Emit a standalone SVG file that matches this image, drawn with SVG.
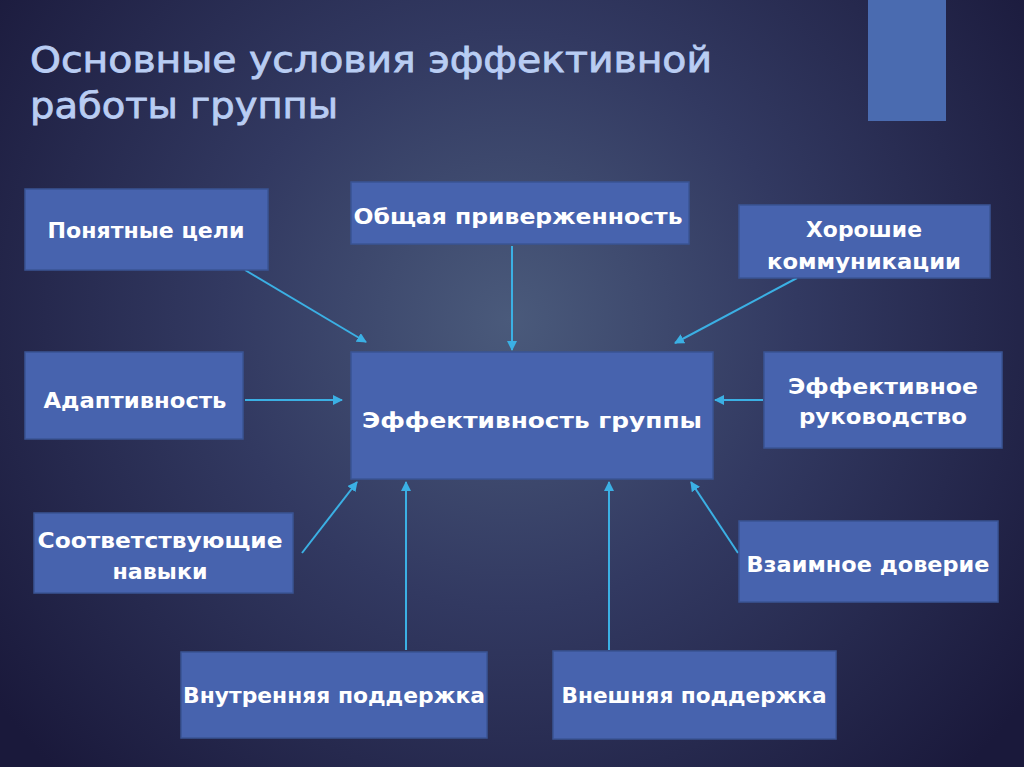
<svg xmlns="http://www.w3.org/2000/svg" width="1024" height="767" viewBox="0 0 1024 767">
<defs>
<radialGradient id="bg" cx="510" cy="320" r="640" gradientUnits="userSpaceOnUse">
<stop offset="0" stop-color="#4a5a7b"/>
<stop offset="0.45" stop-color="#323961"/>
<stop offset="1" stop-color="#1a193b"/>
</radialGradient>
<marker id="ah" viewBox="0 0 10 10" refX="9" refY="5" markerWidth="5" markerHeight="5" orient="auto" markerUnits="strokeWidth">
<path d="M0,0 L10,5 L0,10 z" fill="#3bb0e4"/>
</marker>
<style>
.box{fill:#4763ae;stroke:#3a5494;stroke-width:1.5}
.lbl{font-family:"DejaVu Sans","Liberation Sans",sans-serif;font-weight:bold;font-size:22px;fill:#ffffff;text-anchor:middle}
.title{font-family:"DejaVu Sans","Liberation Sans",sans-serif;font-size:36px;fill:#b9cdf3;stroke:#b9cdf3;stroke-width:0.8}
.conn line{stroke:#3bb0e4;stroke-width:2;marker-end:url(#ah)}
</style>
</defs>
<rect x="0" y="0" width="1024" height="767" fill="url(#bg)"/>
<rect x="868" y="0" width="78" height="121" fill="#4a6bb0"/>
<g id="title">
<text class="title" x="30" y="72" textLength="682" lengthAdjust="spacingAndGlyphs">Основные условия эффективной</text>
<text class="title" x="30" y="118" textLength="308" lengthAdjust="spacingAndGlyphs">работы группы</text>
</g>
<g id="connectors" class="conn">
<line x1="245" y1="270" x2="366" y2="342"/>
<line x1="245" y1="400" x2="342" y2="400"/>
<line x1="512" y1="246" x2="512" y2="350"/>
<line x1="797" y1="278" x2="675" y2="343"/>
<line x1="763" y1="400" x2="715" y2="400"/>
<line x1="302" y1="553" x2="357" y2="482"/>
<line x1="406" y1="650" x2="406" y2="482"/>
<line x1="609" y1="650" x2="609" y2="482"/>
<line x1="738" y1="553" x2="691" y2="482"/>
</g>
<g id="n-center">
<rect class="box" x="351" y="352" width="362" height="127"/>
<text class="lbl" x="532" y="428" font-size="25" textLength="340" lengthAdjust="spacingAndGlyphs">Эффективность группы</text>
</g>
<g id="n-goals">
<rect class="box" x="25" y="189" width="243" height="81"/>
<text class="lbl" x="146" y="238" textLength="197" lengthAdjust="spacingAndGlyphs">Понятные цели</text>
</g>
<g id="n-adapt">
<rect class="box" x="25" y="352" width="218" height="87"/>
<text class="lbl" x="135" y="408" textLength="183" lengthAdjust="spacingAndGlyphs">Адаптивность</text>
</g>
<g id="n-commit">
<rect class="box" x="351" y="182" width="338" height="62"/>
<text class="lbl" x="518" y="224" textLength="329" lengthAdjust="spacingAndGlyphs">Общая приверженность</text>
</g>
<g id="n-comm">
<rect class="box" x="739" y="205" width="251" height="73"/>
<text class="lbl" x="864" y="237" textLength="116" lengthAdjust="spacingAndGlyphs">Хорошие</text>
<text class="lbl" x="864" y="269" textLength="194" lengthAdjust="spacingAndGlyphs">коммуникации</text>
</g>
<g id="n-lead">
<rect class="box" x="764" y="352" width="238" height="96"/>
<text class="lbl" x="883" y="394" textLength="190" lengthAdjust="spacingAndGlyphs">Эффективное</text>
<text class="lbl" x="883" y="424" textLength="168" lengthAdjust="spacingAndGlyphs">руководство</text>
</g>
<g id="n-skills">
<rect class="box" x="34" y="513" width="259" height="80"/>
<text class="lbl" x="160" y="548" textLength="245" lengthAdjust="spacingAndGlyphs">Соответствующие</text>
<text class="lbl" x="160" y="579" textLength="95" lengthAdjust="spacingAndGlyphs">навыки</text>
</g>
<g id="n-trust">
<rect class="box" x="739" y="521" width="259" height="81"/>
<text class="lbl" x="868" y="572" textLength="243" lengthAdjust="spacingAndGlyphs">Взаимное доверие</text>
</g>
<g id="n-internal">
<rect class="box" x="181" y="652" width="306" height="86"/>
<text class="lbl" x="334" y="703" textLength="302" lengthAdjust="spacingAndGlyphs">Внутренняя поддержка</text>
</g>
<g id="n-external">
<rect class="box" x="553" y="651" width="283" height="88"/>
<text class="lbl" x="694" y="703" textLength="265" lengthAdjust="spacingAndGlyphs">Внешняя поддержка</text>
</g>
</svg>
